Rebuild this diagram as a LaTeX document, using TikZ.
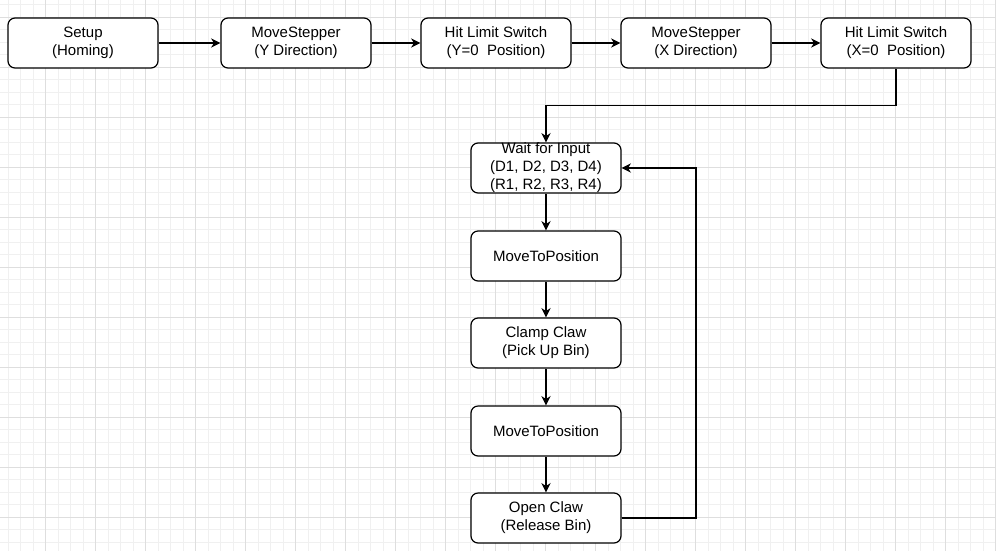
\documentclass[tikz,border=0pt]{standalone}
\usepackage{fontspec}
\setmainfont{Liberation Sans}
\usetikzlibrary{arrows.meta}
\newcommand\linestrut{\rule[-2.85pt]{0pt}{13.5pt}}

\begin{document}
\begin{tikzpicture}[x=0.75pt, y=-0.75pt, >={Stealth[length=7pt, width=7pt, inset=2.2pt]}]

        % background grid
        \useasboundingbox[fill=white] (0,0) rectangle (996,551);
        \foreach \x in {8.3,20.8,...,996} \draw[black!6, line width=0.75pt] (\x,0) -- (\x,551);
        \foreach \y in {4.8,17.3,...,551} \draw[black!6, line width=0.75pt] (0,\y) -- (996,\y);
        \foreach \x in {45.8,95.8,...,996} \draw[black!13, line width=0.75pt] (\x,0) -- (\x,551);
        \foreach \y in {17.3,67.3,...,551} \draw[black!13, line width=0.75pt] (0,\y) -- (996,\y);

        \begin{scope}[every node/.style={draw, rounded corners=5.25pt, fill=white,
            minimum width=112.5pt, minimum height=37.5pt, inner sep=0pt, align=center,
            line width=0.9pt, font=\fontsize{11.25}{13.5}\selectfont,
            execute at begin node=\linestrut, execute at end node=\linestrut}]
          \node (1)  at (83,43)   {Setup\\(Homing)};
          \node (2)  at (296,43)  {MoveStepper\\(Y Direction)};
          \node (3)  at (496,43)  {Hit Limit Switch\\(Y=0\ \ Position)};
          \node (4)  at (696,43)  {MoveStepper\\(X Direction)};
          \node (5)  at (896,43)  {Hit Limit Switch\\(X=0\ \ Position)};
          \node[inner ysep=-1.5pt] (6) at (546,168) {Wait for Input\\(D1, D2, D3, D4)\\(R1, R2, R3, R4)};
          \node (7)  at (546,256) {MoveToPosition};
          \node (8)  at (546,343) {Clamp Claw\\(Pick Up Bin)};
          \node (9)  at (546,431) {MoveToPosition};
          \node (10) at (546,518) {Open Claw\\(Release Bin)};
        \end{scope}

        \coordinate (t1) at (546,105.5);
        \coordinate (t2) at (696,168);

        \begin{scope}[every edge/.style={draw, ->, line width=0.9pt}]
          \path (1) edge (2);
          \path (2) edge (3);
          \path (3) edge (4);
          \path (4) edge (5);
          \path (6) edge (7);
          \path (7) edge (8);
          \path (8) edge (9);
          \path (9) edge (10);
          \draw[->, line width=0.9pt] (5) |- (t1) -| (6);
          \draw[->, line width=0.9pt] (10) -| (t2) -- (6);
        \end{scope}

      \end{tikzpicture}
\end{document}
